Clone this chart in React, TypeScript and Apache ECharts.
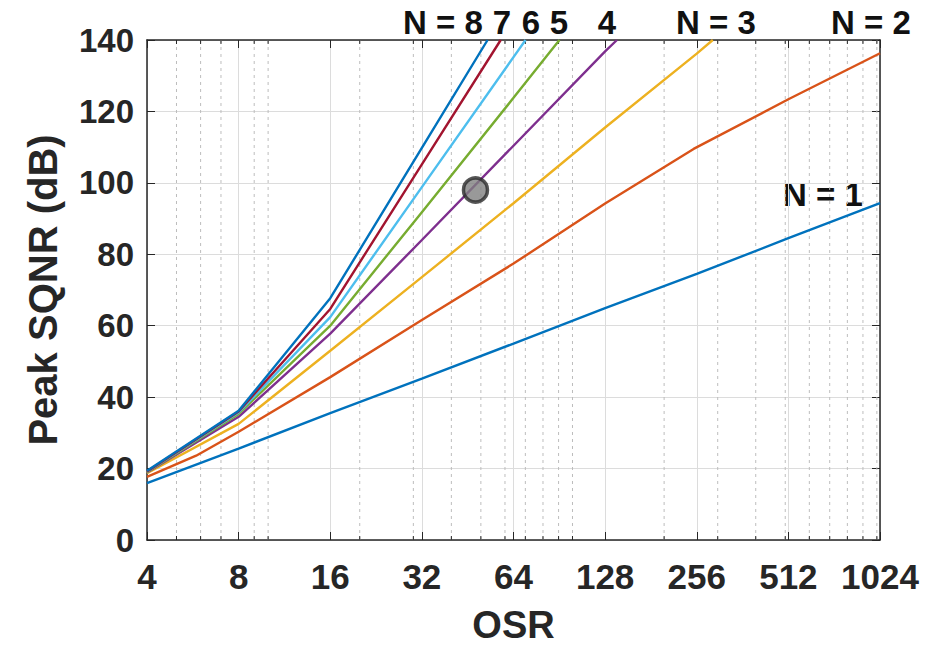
import React, { useEffect, useRef } from "react";
import * as echarts from "echarts";

// ---- data ----
const osrN1 = [4, 8, 16, 32, 64, 128, 256, 512, 1024];
const sqnrN1 = [15.9, 25.6, 35.5, 45.2, 55.0, 64.9, 74.5, 84.5, 94.3];

const osrN2 = [4, 5.8, 8, 16, 32, 64, 128, 250, 512, 1024];
const sqnrN2 = [17.7, 23.6, 30.3, 45.6, 61.6, 77.4, 94.2, 109.5, 123.4, 136.3];

const osrN3 = [4, 8, 16, 32, 64, 128, 256, 289];
const sqnrN3 = [18.7, 32.5, 53.0, 73.6, 94.3, 115.5, 136.2, 140];

const osrN4 = [4, 8, 16, 32, 64, 128, 140];
const sqnrN4 = [18.9, 34.5, 57.8, 84.0, 110.4, 136.8, 140];

const osrN5 = [4, 8, 16, 32, 64, 90.6];
const sqnrN5 = [19.0, 35.3, 60.0, 91.8, 123.8, 140];

const osrN6 = [4, 8, 16, 32, 64, 70.1];
const sqnrN6 = [19.1, 35.7, 62.4, 98.8, 135.2, 140];

const osrN7 = [4, 8, 16, 32, 58.1];
const sqnrN7 = [19.2, 36.0, 64.7, 105.2, 140];

const osrN8 = [4, 8, 16, 32, 52.6];
const sqnrN8 = [19.4, 36.2, 67.7, 109.8, 140];

const markerOSR = [48];
const markerSQNR = [98];

const minorOSR = [5, 6, 7, 9, 10, 20, 30, 40, 50, 60, 70, 80, 90, 100, 200, 300, 400, 500, 600, 700, 800, 900, 1000];

const seriesNames = ["N = 1", "N = 2", "N = 3", "N = 4", "N = 5", "N = 6", "N = 7", "N = 8"];
const seriesColors = ["#0072BD", "#D95319", "#EDB120", "#7E2F8E", "#77AC30", "#4DBEEE", "#A2142F", "#0072BD"];

const FONT = '"Liberation Sans", Arial, sans-serif';
const AXIS_COLOR = "#262626";

export default function App() {
  const ref = useRef<HTMLDivElement>(null);

  useEffect(() => {
    if (!ref.current) return;
    document.body.style.margin = "0";
    const chart = echarts.init(ref.current, undefined, { renderer: "svg" });

    const osrs = [osrN1, osrN2, osrN3, osrN4, osrN5, osrN6, osrN7, osrN8];
    const sqnrs = [sqnrN1, sqnrN2, sqnrN3, sqnrN4, sqnrN5, sqnrN6, sqnrN7, sqnrN8];

    const lineSeries = osrs.map((xs, i) => ({
      name: seriesNames[i],
      type: "line",
      data: xs.map((x, j) => [x, sqnrs[i][j]]),
      showSymbol: false,
      symbol: "none",
      lineStyle: { color: seriesColors[i], width: 2.4 },
      itemStyle: { color: seriesColors[i] },
      clip: true,
      silent: true,
      z: 3,
    }));

    const fmt = (v: number) => String(Math.round(v));

    const option: any = {
      animation: false,
      backgroundColor: "#ffffff",
      textStyle: { fontFamily: FONT },
      grid: { left: 147, top: 40, width: 733, height: 500, containLabel: false, outerBoundsMode: "none" },
      xAxis: [
        {
          type: "log",
          logBase: 2,
          min: 4,
          max: 1024,
          position: "bottom",
          name: "OSR",
          nameLocation: "middle",
          nameGap: 66,
          nameTextStyle: { fontSize: 38, lineHeight: 38, fontWeight: "bold", color: AXIS_COLOR, fontFamily: FONT },
          axisLine: { show: true, onZero: false, lineStyle: { color: AXIS_COLOR, width: 1.5 } },
          axisTick: { show: true, inside: true, length: 8, lineStyle: { color: AXIS_COLOR, width: 1 } },
          axisLabel: { fontSize: 35, fontWeight: "bold", color: AXIS_COLOR, fontFamily: FONT, margin: 19, formatter: fmt },
          splitLine: { show: true, lineStyle: { color: "#dcdcdc", width: 1 } },
        },
        {
          type: "log",
          logBase: 2,
          min: 4,
          max: 1024,
          position: "top",
          axisLine: { show: true, onZero: false, lineStyle: { color: AXIS_COLOR, width: 1.5 } },
          axisTick: { show: true, inside: true, length: 8, lineStyle: { color: AXIS_COLOR, width: 1 } },
          axisLabel: { show: false },
          splitLine: { show: false },
        },
      ],
      yAxis: [
        {
          type: "value",
          min: 0,
          max: 140,
          interval: 20,
          position: "left",
          name: "Peak SQNR (dB)",
          nameLocation: "middle",
          nameGap: 84,
          nameTextStyle: { fontSize: 40, fontWeight: "bold", color: AXIS_COLOR, fontFamily: FONT },
          axisLine: { show: true, onZero: false, lineStyle: { color: AXIS_COLOR, width: 1.5 } },
          axisTick: { show: true, inside: true, length: 8, lineStyle: { color: AXIS_COLOR, width: 1 } },
          axisLabel: { fontSize: 33, fontWeight: "bold", color: AXIS_COLOR, fontFamily: FONT, margin: 13 },
          splitLine: { show: true, lineStyle: { color: "#dcdcdc", width: 1 } },
        },
        {
          type: "value",
          min: 0,
          max: 140,
          interval: 20,
          position: "right",
          axisLine: { show: true, onZero: false, lineStyle: { color: AXIS_COLOR, width: 1.5 } },
          axisTick: { show: true, inside: true, length: 8, lineStyle: { color: AXIS_COLOR, width: 1 } },
          axisLabel: { show: false },
          splitLine: { show: false },
        },
      ],
      series: [
        {
          type: "custom",
          xAxisIndex: 0,
          yAxisIndex: 0,
          silent: true,
          z: 1,
          data: minorOSR.map((v) => [v, 0]),
          renderItem: (_params: any, api: any) => {
            const v = api.value(0);
            const bot = api.coord([v, 0]);
            const top = api.coord([v, 140]);
            return {
              type: "group",
              children: [
                {
                  type: "line",
                  shape: { x1: bot[0], y1: bot[1], x2: top[0], y2: top[1] },
                  style: { stroke: "#bdbdbd", lineWidth: 1, lineDash: [3, 4] },
                },
                {
                  type: "line",
                  shape: { x1: bot[0], y1: bot[1], x2: bot[0], y2: bot[1] - 4 },
                  style: { stroke: AXIS_COLOR, lineWidth: 1 },
                },
                {
                  type: "line",
                  shape: { x1: top[0], y1: top[1], x2: top[0], y2: top[1] + 4 },
                  style: { stroke: AXIS_COLOR, lineWidth: 1 },
                },
              ],
            };
          },
        },
        ...lineSeries,
        {
          type: "scatter",
          data: markerOSR.map((x, i) => [x, markerSQNR[i]]),
          symbol: "circle",
          symbolSize: 24,
          itemStyle: { color: "#7f7f7f", borderColor: "#2b2b2b", borderWidth: 3.5 },
          silent: true,
          z: 5,
        },
      ],
      graphic: [
        { type: "text", x: 443, y: 22, style: { text: "N = 8", fontSize: 33, fontWeight: "bold", fontFamily: FONT, fill: "#111", align: "center", verticalAlign: "middle" } },
        { type: "text", x: 502, y: 22, style: { text: "7", fontSize: 33, fontWeight: "bold", fontFamily: FONT, fill: "#111", align: "center", verticalAlign: "middle" } },
        { type: "text", x: 531, y: 22, style: { text: "6", fontSize: 33, fontWeight: "bold", fontFamily: FONT, fill: "#111", align: "center", verticalAlign: "middle" } },
        { type: "text", x: 559, y: 22, style: { text: "5", fontSize: 33, fontWeight: "bold", fontFamily: FONT, fill: "#111", align: "center", verticalAlign: "middle" } },
        { type: "text", x: 607, y: 22, style: { text: "4", fontSize: 33, fontWeight: "bold", fontFamily: FONT, fill: "#111", align: "center", verticalAlign: "middle" } },
        { type: "text", x: 716, y: 22, style: { text: "N = 3", fontSize: 33, fontWeight: "bold", fontFamily: FONT, fill: "#111", align: "center", verticalAlign: "middle" } },
        { type: "text", x: 871, y: 22, style: { text: "N = 2", fontSize: 33, fontWeight: "bold", fontFamily: FONT, fill: "#111", align: "center", verticalAlign: "middle" } },
        { type: "text", x: 823, y: 194, style: { text: "N = 1", fontSize: 33, fontWeight: "bold", fontFamily: FONT, fill: "#111", align: "center", verticalAlign: "middle" } },
      ],
    };

    chart.setOption(option);
    return () => chart.dispose();
  }, []);

  return (
    <div
      ref={ref}
      style={{ position: "absolute", left: 0, top: 0, width: 944, height: 646, background: "#fff" }}
    />
  );
}
